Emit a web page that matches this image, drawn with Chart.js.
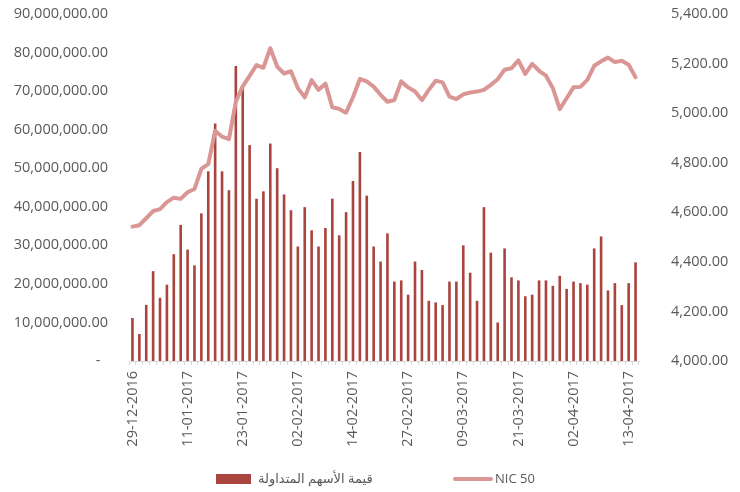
<!DOCTYPE html>
<html>
<head>
<meta charset="utf-8">
<script src="https://cdn.jsdelivr.net/npm/chart.js@4.4.0/dist/chart.umd.min.js"></script>
<style>
  html, body { margin: 0; padding: 0; background: #ffffff; }
  #wrap { width: 740px; height: 492px; position: relative; }
</style>
</head>
<body>
<div id="wrap"><canvas id="c" width="740" height="492"></canvas></div>
<script>
const dates = [
  "29-12-2016",
  "02-01-2017","03-01-2017","04-01-2017","05-01-2017","08-01-2017","09-01-2017","10-01-2017","11-01-2017",
  "12-01-2017","15-01-2017","16-01-2017","17-01-2017","18-01-2017","19-01-2017","22-01-2017","23-01-2017",
  "24-01-2017","25-01-2017","26-01-2017","29-01-2017","30-01-2017","31-01-2017","01-02-2017","02-02-2017",
  "05-02-2017","06-02-2017","07-02-2017","08-02-2017","09-02-2017","12-02-2017","13-02-2017","14-02-2017",
  "15-02-2017","16-02-2017","19-02-2017","20-02-2017","21-02-2017","22-02-2017","23-02-2017","27-02-2017",
  "28-02-2017","01-03-2017","02-03-2017","05-03-2017","06-03-2017","07-03-2017","08-03-2017","09-03-2017",
  "12-03-2017","13-03-2017","14-03-2017","15-03-2017","16-03-2017","19-03-2017","20-03-2017","21-03-2017",
  "22-03-2017","23-03-2017","26-03-2017","27-03-2017","28-03-2017","29-03-2017","30-03-2017","02-04-2017",
  "03-04-2017","04-04-2017","05-04-2017","06-04-2017","09-04-2017","10-04-2017","11-04-2017","13-04-2017",
  "16-04-2017"
];

// Traded value (millions) - left axis
const tradedValueM = [
  11.15, 7.0, 14.55, 23.3, 16.4, 19.8, 27.7, 35.3, 28.9, 24.8,
  38.3, 49.2, 61.6, 49.2, 44.3, 76.5, 71.5, 56.0, 42.1, 44.0,
  56.4, 50.0, 43.2, 39.1, 29.7, 39.9, 33.9, 29.7, 34.5, 42.1,
  32.6, 38.6, 46.7, 54.2, 42.9, 29.7, 25.8, 33.1, 20.6, 20.9,
  17.2, 25.8, 23.6, 15.6, 15.2, 14.5, 20.6, 20.6, 30.0, 22.9,
  15.6, 39.9, 28.1, 10.0, 29.2, 21.7, 20.9, 16.8, 17.2, 20.9,
  20.9, 19.5, 22.1, 18.7, 20.6, 20.2, 19.8, 29.2, 32.3, 18.3,
  20.2, 14.5, 20.2, 25.6
];

// NIC 50 index - right axis
const nic50 = [
  4542, 4548, 4576, 4605, 4613, 4641, 4659, 4654, 4681, 4694,
  4775, 4794, 4929, 4905, 4895, 5046, 5108, 5150, 5194, 5183,
  5262, 5188, 5160, 5169, 5101, 5064, 5133, 5094, 5119, 5024,
  5017, 5002, 5064, 5138, 5128, 5107, 5074, 5046, 5053, 5128,
  5104, 5087, 5053, 5094, 5131, 5124, 5067, 5057, 5076, 5083,
  5087, 5094, 5114, 5137, 5175, 5181, 5213, 5158, 5199, 5171,
  5151, 5101, 5016, 5060, 5104, 5106, 5134, 5191, 5209, 5224,
  5206, 5211, 5195, 5145
];

const leftTicks = { min: 0, max: 90000000, step: 10000000 };
const rightTicks = { min: 4000, max: 5400, step: 200 };

const seriesNames = ["قيمة الأسهم المتداولة", "NIC 50"];

const tradedValue = tradedValueM.map(v => v * 1000000);

const textColor = "#595959";
const fontFamily = "'Open Sans', 'DejaVu Sans', sans-serif";

const fmt2 = v => v.toLocaleString('en-US', { minimumFractionDigits: 2, maximumFractionDigits: 2 });

const legendPlugin = {
  id: 'customLegend',
  afterDraw(chart) {
    const ctx = chart.ctx;
    const ds = chart.data.datasets;
    const y = 479;
    ctx.save();
    ctx.font = "13px " + fontFamily;
    ctx.textBaseline = 'middle';
    ctx.textAlign = 'left';
    ctx.fillStyle = ds[0].backgroundColor;
    ctx.fillRect(216, y - 5, 35, 10);
    ctx.fillStyle = textColor;
    ctx.fillText(ds[0].label, 258, y);
    ctx.strokeStyle = ds[1].borderColor;
    ctx.lineWidth = 4;
    ctx.lineCap = 'round';
    ctx.beginPath();
    ctx.moveTo(455, y);
    ctx.lineTo(491, y);
    ctx.stroke();
    ctx.fillStyle = textColor;
    ctx.fillText(ds[1].label, 495, y);
    ctx.restore();
  }
};

function fixVertical(scale, width) {
  scale.width = width;
  scale.paddingTop = 0;
  scale.paddingBottom = 0;
}

new Chart(document.getElementById('c'), {
  data: {
    labels: dates,
    datasets: [
      {
        type: 'bar',
        label: seriesNames[0],
        data: tradedValue,
        backgroundColor: '#A9443F',
        barPercentage: 0.38,
        categoryPercentage: 1.0,
        yAxisID: 'y',
        order: 1
      },
      {
        type: 'line',
        label: seriesNames[1],
        data: nic50,
        borderColor: '#D99694',
        backgroundColor: '#D99694',
        borderWidth: 4,
        pointRadius: 0,
        pointHoverRadius: 0,
        tension: 0,
        borderJoinStyle: 'round',
        borderCapStyle: 'round',
        fill: false,
        yAxisID: 'y1',
        order: 0
      }
    ]
  },
  options: {
    responsive: false,
    animation: false,
    events: [],
    layout: { padding: { top: 14, left: 0, right: 0, bottom: 0 } },
    plugins: {
      legend: { display: false },
      tooltip: { enabled: false }
    },
    scales: {
      x: {
        offset: true,
        grid: {
          offset: true,
          drawOnChartArea: false,
          drawTicks: true,
          tickLength: 4,
          color: '#d9d9d9'
        },
        border: { display: true, color: '#d9d9d9', width: 1 },
        ticks: {
          autoSkip: false,
          maxRotation: 90,
          minRotation: 90,
          padding: 6,
          color: textColor,
          font: { family: fontFamily, size: 14.5 },
          callback: function(value, index) {
            return index % 8 === 0 ? this.getLabelForValue(value) : '';
          }
        },
        afterFit(scale) {
          scale.height = 131;
          scale.paddingLeft = 0;
          scale.paddingRight = 0;
        }
      },
      y: {
        position: 'left',
        min: leftTicks.min,
        max: leftTicks.max,
        grid: { display: false, drawTicks: false },
        border: { display: false },
        ticks: {
          stepSize: leftTicks.step,
          padding: 21,
          color: textColor,
          font: { family: fontFamily, size: 14.5 },
          callback: v => v === 0 ? '-  ' : fmt2(v)
        },
        afterFit(scale) { fixVertical(scale, 129); }
      },
      y1: {
        position: 'right',
        min: rightTicks.min,
        max: rightTicks.max,
        grid: { display: false, drawTicks: false },
        border: { display: false },
        ticks: {
          stepSize: rightTicks.step,
          padding: 32,
          color: textColor,
          font: { family: fontFamily, size: 14.5 },
          callback: v => fmt2(v)
        },
        afterFit(scale) { fixVertical(scale, 101); }
      }
    }
  },
  plugins: [legendPlugin]
});
</script>
</body>
</html>
